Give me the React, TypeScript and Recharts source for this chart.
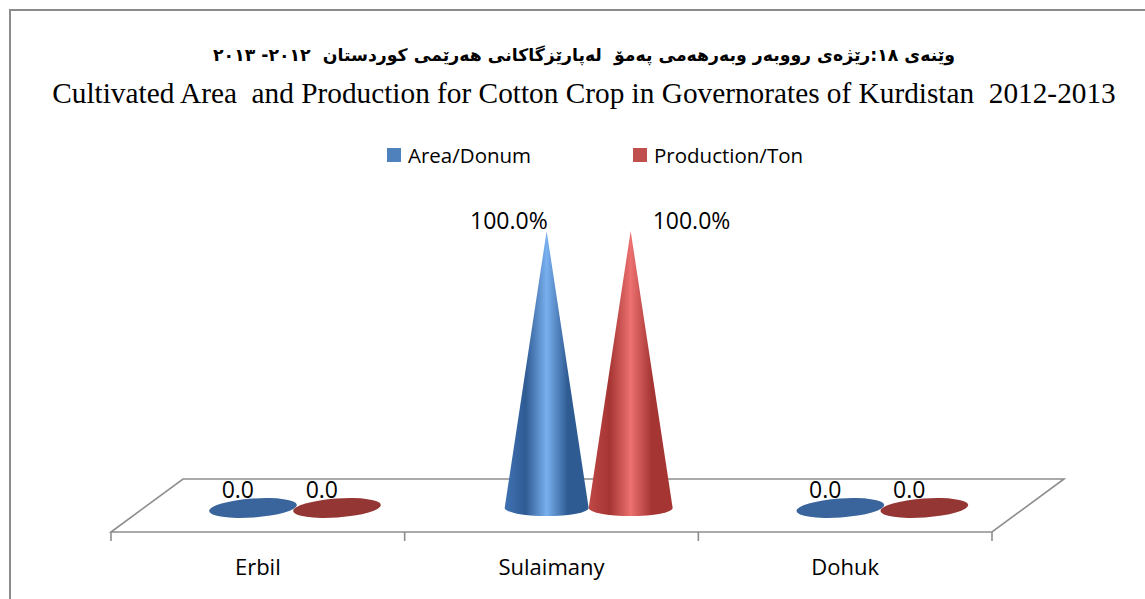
import { Bar, BarChart, LabelList, XAxis, YAxis } from 'recharts';

// share of Kurdistan total (%) per governorate
const categories = ['Erbil', 'Sulaimany', 'Dohuk'];
const areaShare = [0, 100, 0];
const productionShare = [0, 100, 0];
const seriesNames = ['Area/Donum', 'Production/Ton'];

const titleKu = 'وێنەی ١٨:رێژەی رووبەر وبەرهەمی پەمۆ  لەپارێزگاکانی هەرێمی کوردستان  ٢٠١٢- ٢٠١٣';
const titleEn = 'Cultivated Area  and Production for Cotton Crop in Governorates of Kurdistan  2012-2013';

const data = categories.map((name, i) => ({
  name,
  area: areaShare[i],
  production: productionShare[i],
}));

const W = 1145;
const H = 599;
const PLOT_LEFT = 111;
const PLOT_RIGHT = 992;
const PLOT_TOP = 255;
const PLOT_BOTTOM = 532;
const X_AXIS_H = 40;
// 3d floor depth and where the cones stand on it
const FLOOR_DX = 72;
const FLOOR_DY = -53;
const DEPTH_X = 37;
const DEPTH_Y = -24;

const FONT = '"Open Sans", "DejaVu Sans", sans-serif';

const palette = {
  area: { swatch: '#4f81bd', flat: '#3a659c', dark: '#2f5b93', light: '#79b0ef', edge: '#3f72b3' },
  production: { swatch: '#c0504d', flat: '#943634', dark: '#a53533', light: '#ec7170', edge: '#bf4846' },
};

type Tone = keyof typeof palette;

function Cone(props: any) {
  const { x, y, width, height, tone } = props as {
    x: number;
    y: number;
    width: number;
    height: number;
    tone: Tone;
  };
  const cx = x + width / 2 + DEPTH_X;
  const baseY = y + height + DEPTH_Y;
  const rx = width / 2;

  if (!height || height < 0.5) {
    return (
      <ellipse
        cx={cx}
        cy={baseY}
        rx={rx + 2}
        ry={9.5}
        fill={palette[tone].flat}
        transform={`rotate(-4 ${cx} ${baseY})`}
      />
    );
  }

  const apexY = y + DEPTH_Y;
  const d = `M ${cx - rx} ${baseY} L ${cx} ${apexY} L ${cx + rx} ${baseY} A ${rx} 8 0 0 1 ${cx - rx} ${baseY} Z`;
  return <path d={d} fill={`url(#cone-${tone})`} />;
}

function ValueLabel(props: any, tone: Tone) {
  const box = props.viewBox ?? props;
  const { x, y, width, height } = box as { x: number; y: number; width: number; height: number };
  const value = Number(props.value);
  const cx = x + width / 2 + DEPTH_X;

  if (!value) {
    return (
      <text x={cx + 1} y={y + height + DEPTH_Y - 10} textAnchor="end" fontFamily={FONT} fontSize={23} fill="#000">
        0.0
      </text>
    );
  }

  const text = `${value.toFixed(1)}%`;
  const rightSide = tone === 'production';
  return (
    <text
      x={rightSide ? cx + 22 : cx + 1}
      y={y + DEPTH_Y - 2}
      textAnchor={rightSide ? 'start' : 'end'}
      fontFamily={FONT}
      fontSize={23}
      fill="#000"
    >
      {text}
    </text>
  );
}

function CategoryTick({ x, payload }: any) {
  return (
    <text x={x} y={PLOT_BOTTOM + 43} textAnchor="middle" fontFamily={FONT} fontSize={22} fill="#000">
      {payload.value}
    </text>
  );
}

function Floor() {
  const band = (PLOT_RIGHT - PLOT_LEFT) / categories.length;
  const pts = [
    [PLOT_LEFT, PLOT_BOTTOM],
    [PLOT_RIGHT, PLOT_BOTTOM],
    [PLOT_RIGHT + FLOOR_DX, PLOT_BOTTOM + FLOOR_DY],
    [PLOT_LEFT + FLOOR_DX, PLOT_BOTTOM + FLOOR_DY],
  ]
    .map((p) => p.join(','))
    .join(' ');

  return (
    <svg width={W} height={H} style={{ position: 'absolute', left: 0, top: 0 }}>
      <polygon points={pts} fill="none" stroke="#8e8e8e" strokeWidth={1.6} />
      {Array.from({ length: categories.length + 1 }, (_, i) => (
        <line
          key={i}
          x1={PLOT_LEFT + i * band}
          x2={PLOT_LEFT + i * band}
          y1={PLOT_BOTTOM}
          y2={PLOT_BOTTOM + 9}
          stroke="#8e8e8e"
          strokeWidth={1.6}
        />
      ))}
    </svg>
  );
}

function LegendRow() {
  const items: { name: string; tone: Tone; left: number }[] = [
    { name: seriesNames[0], tone: 'area', left: 387 },
    { name: seriesNames[1], tone: 'production', left: 633 },
  ];
  return (
    <>
      {items.map((it) => (
        <div
          key={it.name}
          style={{
            position: 'absolute',
            left: it.left,
            top: 141,
            display: 'flex',
            alignItems: 'center',
            fontFamily: FONT,
            fontSize: 20.5,
            lineHeight: '28px',
            color: '#000',
            whiteSpace: 'nowrap',
          }}
        >
          <span style={{ width: 14, height: 14, background: palette[it.tone].swatch, marginRight: 7 }} />
          {it.name}
        </div>
      ))}
    </>
  );
}

export default function App() {
  return (
    <div style={{ position: 'absolute', left: 0, top: 0, width: W, height: H, overflow: 'hidden', background: '#fff' }}>
      <div
        style={{
          position: 'absolute',
          left: 9,
          top: 9,
          width: 1300,
          height: 800,
          borderLeft: '2px solid #8c8c8c',
          borderTop: '2px solid #8c8c8c',
        }}
      />
      <div
        dir="rtl"
        style={{
          position: 'absolute',
          left: 9,
          top: 40,
          width: 1150,
          textAlign: 'center',
          fontFamily: '"DejaVu Sans", sans-serif',
          fontWeight: 'bold',
          fontSize: 17.3,
          lineHeight: '30px',
          whiteSpace: 'pre',
          color: '#000',
        }}
      >
        {titleKu}
      </div>
      <div
        style={{
          position: 'absolute',
          left: 9,
          top: 75,
          width: 1150,
          textAlign: 'center',
          fontFamily: '"Liberation Serif", "Times New Roman", serif',
          fontSize: 29.3,
          lineHeight: '36px',
          whiteSpace: 'pre',
          color: '#000',
        }}
      >
        {titleEn}
      </div>
      <LegendRow />
      <Floor />
      <div style={{ position: 'absolute', left: 0, top: 0 }}>
        <BarChart
          width={W}
          height={H}
          data={data}
          margin={{ top: PLOT_TOP, right: W - PLOT_RIGHT, bottom: H - PLOT_BOTTOM - X_AXIS_H, left: PLOT_LEFT }}
          barSize={84}
          barGap={0}
        >
          <defs>
            {(Object.keys(palette) as Tone[]).map((tone) => (
              <linearGradient key={tone} id={`cone-${tone}`} x1="0" y1="0" x2="1" y2="0">
                <stop offset="0%" stopColor={palette[tone].edge} />
                <stop offset="25%" stopColor={palette[tone].dark} />
                <stop offset="50%" stopColor={palette[tone].light} />
                <stop offset="75%" stopColor={palette[tone].dark} />
                <stop offset="100%" stopColor={palette[tone].dark} />
              </linearGradient>
            ))}
          </defs>
          <XAxis
            dataKey="name"
            height={X_AXIS_H}
            axisLine={false}
            tickLine={false}
            tick={<CategoryTick />}
            interval={0}
          />
          <YAxis hide domain={[0, 100]} />
          <Bar
            dataKey="area"
            name={seriesNames[0]}
            isAnimationActive={false}
            shape={(p: any) => <Cone {...p} tone="area" />}
          >
            <LabelList dataKey="area" content={(p: any) => ValueLabel(p, 'area')} />
          </Bar>
          <Bar
            dataKey="production"
            name={seriesNames[1]}
            isAnimationActive={false}
            shape={(p: any) => <Cone {...p} tone="production" />}
          >
            <LabelList dataKey="production" content={(p: any) => ValueLabel(p, 'production')} />
          </Bar>
        </BarChart>
      </div>
    </div>
  );
}
